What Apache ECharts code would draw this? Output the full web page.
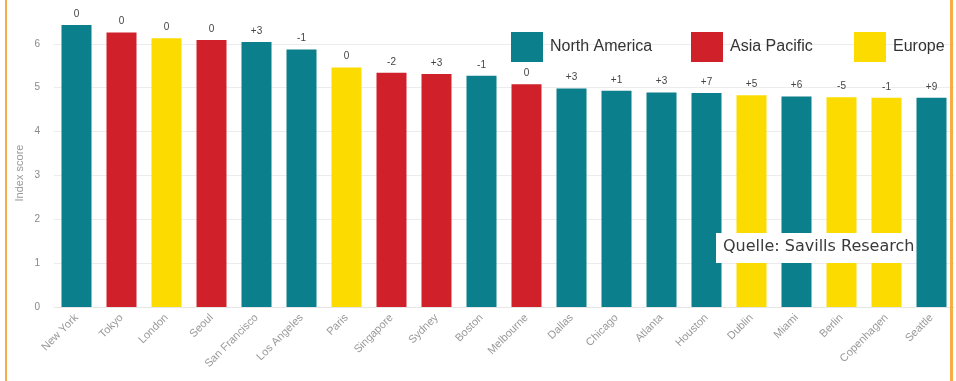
<!DOCTYPE html>
<html>
<head>
<meta charset="utf-8">
<script src="https://cdn.jsdelivr.net/npm/echarts@6/dist/echarts.min.js"></script>
<style>
html,body{margin:0;padding:0;background:#fff;}
#chart{width:956px;height:381px;}
</style>
</head>
<body>
<div id="chart"></div>
<script>
const cities = ['New York','Tokyo','London','Seoul','San Francisco','Los Angeles','Paris','Singapore','Sydney','Boston','Melbourne','Dallas','Chicago','Atlanta','Houston','Dublin','Miami','Berlin','Copenhagen','Seattle'];
const scores = [6.43,6.26,6.13,6.09,6.04,5.87,5.46,5.34,5.31,5.27,5.08,4.98,4.93,4.89,4.88,4.83,4.80,4.78,4.77,4.77];
const regions = ['North America','Asia Pacific','Europe','Asia Pacific','North America','North America','Europe','Asia Pacific','Asia Pacific','North America','Asia Pacific','North America','North America','North America','North America','Europe','North America','Europe','Europe','North America'];
const changes = ['0','0','0','0','+3','-1','0','-2','+3','-1','0','+3','+1','+3','+7','+5','+6','-5','-1','+9'];
const regionNames = ['North America','Asia Pacific','Europe'];
const regionColors = {'North America':'#0b7f8b','Asia Pacific':'#d0202a','Europe':'#fcdc00'};
const yTicks = [0,1,2,3,4,5,6,7];

const series = regionNames.map(r => ({
  name: r,
  type: 'bar',
  stack: 'all',
  barWidth: 30,
  itemStyle: {color: regionColors[r]},
  data: scores.map((v,i) => regions[i] === r ? v : '-'),
  label: {
    show: true,
    position: 'top',
    distance: 6,
    fontSize: 10,
    color: '#444',
    fontFamily: 'Liberation Sans',
    formatter: p => changes[p.dataIndex]
  }
}));

const legendLefts = [506, 686, 849];
const legends = regionNames.map((r,i) => ({
  data: [r],
  left: legendLefts[i],
  top: 27,
  itemWidth: 32,
  itemHeight: 30,
  itemGap: 0,
  icon: 'rect',
  textStyle: {fontSize: 16, color: '#333', fontFamily: 'Liberation Sans', padding: [0,0,0,2]}
}));

const chart = echarts.init(document.getElementById('chart'), null, {renderer: 'canvas'});
chart.setOption({
  animation: false,
  backgroundColor: '#fff',
  legend: legends,
  grid: {left: 54, right: 2, top: -1, bottom: 74},
  xAxis: {
    type: 'category',
    data: cities,
    axisTick: {show: false},
    axisLine: {show: true, lineStyle: {color: '#e6e6e6'}},
    axisLabel: {interval: 0, rotate: 45, fontSize: 11, color: '#999', fontFamily: 'Liberation Sans', margin: 9}
  },
  yAxis: {
    type: 'value',
    min: yTicks[0],
    max: yTicks[yTicks.length-1],
    interval: 1,
    axisLabel: {fontSize: 10, color: '#888', margin: 14, fontFamily: 'Liberation Sans', showMaxLabel: false},
    splitLine: {lineStyle: {color: '#ececec'}},
    axisLine: {show: false},
    axisTick: {show: false}
  },
  series: series,
  graphic: [
    {type: 'rect', left: 0, top: 0, shape: {width: 956, height: 6}, style: {fill: '#fff'}, z: 99},
    {type: 'text', x: 20, y: 173, rotation: Math.PI/2, style: {text: 'Index score', fontSize: 11, fill: '#999', fontFamily: 'Liberation Sans', align: 'center', verticalAlign: 'middle'}, z: 100},
    {type: 'rect', left: 5, top: 0, shape: {width: 2, height: 381}, style: {fill: '#f6ad45'}, z: 100},
    {type: 'rect', left: 950, top: 0, shape: {width: 3, height: 381}, style: {fill: '#f6ad45'}, z: 100},
    {type: 'rect', left: 716, top: 233, shape: {width: 200, height: 30}, style: {fill: '#fff'}, z: 100},
    {type: 'text', left: 723, top: 239, style: {text: 'Quelle: Savills Research', fontSize: 16, fill: '#3a3a3a', fontFamily: 'DejaVu Sans'}, z: 101}
  ]
});
</script>
</body>
</html>
